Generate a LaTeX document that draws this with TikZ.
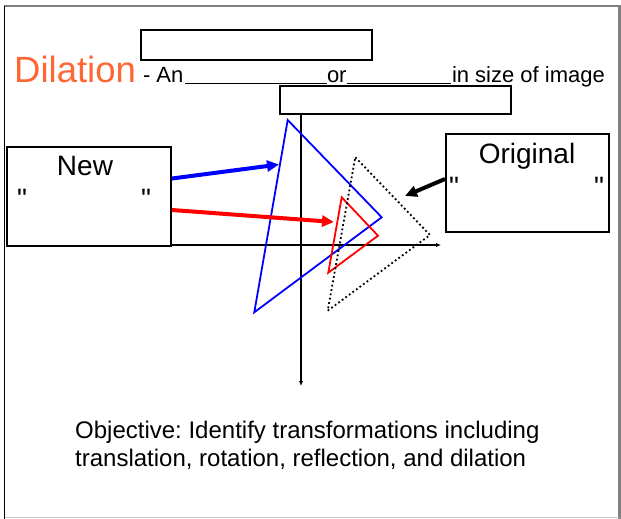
\documentclass[tikz,border=0pt]{standalone}
\usepackage{fontspec}
\setmainfont{Liberation Sans}
\newfontfamily\quotefont{Liberation Sans}[Ligatures=TeXOff]
\usetikzlibrary{arrows.meta}
\definecolor{titleorange}{HTML}{FF6633}
\definecolor{framegray}{HTML}{808080}
\definecolor{framelight}{HTML}{C8C8C8}
\frenchspacing
\newcommand{\straightquote}{{\quotefont\char34\relax}}
\begin{document}
\begin{tikzpicture}[x=1pt,y=-1pt,
  blank/.style={draw=black,line width=2pt,fill=white},
  txt/.style={inner sep=0pt,outer sep=0pt,font=\fontsize{22}{26}\selectfont},
  lbl/.style={inner sep=0pt,outer sep=0pt,font=\fontsize{28}{32}\selectfont},
  objline/.style={inner sep=0pt,anchor=base west,font=\fontsize{24}{28}\selectfont},
  axis/.style={line width=1.6pt,{Latex[length=5pt,width=4.5pt]}-{Latex[length=5pt,width=4.5pt]}},
  pointer/.style={line width=4pt,-{Triangle[length=12pt,width=11pt]}},
  trianglepath/.style={line width=1.8pt,line join=miter}]
\useasboundingbox (0,0) rectangle (621,519);

% slide frame
\draw[framegray,line width=2pt] (4,6) -- (619,6);
\draw[framegray,line width=3pt] (619,5) -- (619,519);
\draw[framelight,line width=1.5pt] (4,517.5) -- (619,517.5);
\draw[black,line width=1.6pt] (4.5,6) -- (4.5,519);

% heading line
\node[inner sep=0pt,anchor=base west,text=titleorange,font=\fontsize{36.5}{40}\selectfont] (title) at (14,82) {Dilation};
\node[txt,anchor=base west] (an) at (143,82) {- An};
\node[txt,anchor=base west] (or) at (327,82) {or};
\node[txt,anchor=base west] (insize) at (452,82) {in size of image};
\draw[line width=1pt] ([xshift=2pt,yshift=-1pt]an.base east) -- ([yshift=-1pt]or.base west);
\draw[line width=1pt] ([yshift=-1pt]or.base east) -- ([xshift=-1pt,yshift=-1pt]insize.base west);

% axes
\coordinate (xl) at (163,245);
\coordinate (xr) at (441,245);
\coordinate (yt) at (301,109);
\coordinate (yb) at (301,386);
\draw[axis] (xl) -- (xr);
\draw[axis] (yt) -- (yb);

% answer boxes
\draw[blank] (141,30) rectangle (372,60);
\draw[blank] (280,86) rectangle (511,114);
\node[blank,minimum width=164pt,minimum height=99pt,inner sep=0pt,anchor=north west] (newbox) at (6,146) {};
\node[blank,minimum width=163pt,minimum height=98pt,inner sep=0pt,anchor=north west] (origbox) at (445,133) {};

% box labels
\node[lbl,anchor=base] (newlbl) at (85,175) {New};
\node[lbl,anchor=base west] (nq1) at (17,208) {\straightquote};
\node[lbl,anchor=base west] (nq2) at (141,208) {\straightquote};
\node[lbl,anchor=base] (origlbl) at (527,163) {Original};
\node[lbl,anchor=base west] (oq1) at (449,196) {\straightquote};
\node[lbl,anchor=base west] (oq2) at (594,196) {\straightquote};

% triangles
\draw[trianglepath,blue] (287.7,120) -- (381.7,217.3) -- (254.3,312.3) -- cycle;
\draw[trianglepath,red] (341.7,197.3) -- (378,235.7) -- (328.3,272.7) -- cycle;
\draw[line width=1.8pt,black,dash pattern=on 1.8pt off 2.6pt] (355.3,157.3) -- (430,235) -- (327.7,310.7) -- cycle;

% pointers
\coordinate (bluetip) at (279,164.5);
\coordinate (redtip) at (334,222);
\coordinate (blacktip) at (405,196);
\draw[pointer,blue] ([yshift=18pt]newbox.east) -- (bluetip);
\draw[pointer,red] ([yshift=-13.5pt]newbox.east) -- (redtip);
\draw[pointer,black] ([yshift=4pt]origbox.west) -- (blacktip);

% objective
\node[objline] (obj1) at (75,438) {Objective: Identify transformations including};
\node[objline] (obj2) at (75,466) {translation, rotation, reflection, and dilation};
\end{tikzpicture}
\end{document}
